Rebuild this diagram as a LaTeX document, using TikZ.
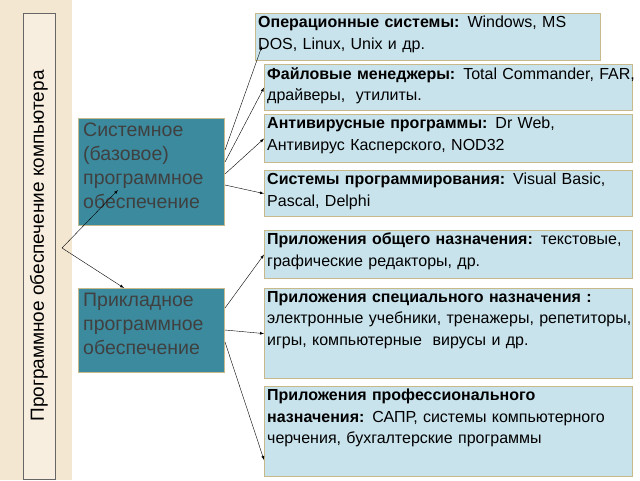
\documentclass[tikz,border=0pt]{standalone}
\usepackage{fontspec}
\setmainfont{Liberation Sans}
\definecolor{boxfill}{HTML}{C9E3EC}
\definecolor{boxline}{HTML}{C8B98A}
\definecolor{teal}{HTML}{3B8A9E}
\definecolor{beige}{HTML}{F3E7D2}
\begin{document}
\begin{tikzpicture}[x=1pt,y=-1pt,
  rbox/.style={draw=boxline,line width=1.2pt,fill=boxfill,anchor=north west,inner sep=0pt},
  rtxt/.style={anchor=north west,inner sep=3pt,align=left,text width=#1,font=\fontsize{16}{21.5}\selectfont},
  lbox/.style={draw=boxline,line width=1pt,fill=teal,anchor=north west,inner sep=0pt,minimum width=146pt},
  ltxt/.style={anchor=north west,text=black!75,align=left,inner sep=5pt,font=\fontsize{19.5}{24}\selectfont,text width=146pt},
  arr/.style={-latex,thin}]
\useasboundingbox (0,0) rectangle (640,480);
\fill[beige] (0,0) rectangle (72,480);
\node[draw=black!60,fill=beige!70!white,minimum width=32pt,minimum height=466pt,anchor=north west] (bar) at (23,13) {};
\node[rotate=90,font=\fontsize{19}{22}\selectfont] (bt) at (39,246) {Программное обеспечение компьютера};
\coordinate (fork) at (62,248);
\node[lbox,minimum height=107pt] (sys) at (78,118) {};
\node[ltxt] (syst) at (sys.north west) {Системное (базовое) программное обеспечение};
\node[lbox,minimum height=84pt] (app) at (78,288) {};
\node[ltxt] (appt) at (app.north west) {Прикладное программное обеспечение};
\node[rbox,minimum width=345pt,minimum height=47pt] (b1) at (255,13) {};
\node[rtxt=345pt] (t1) at (b1.north west) {\textbf{Операционные системы:} Windows, MS DOS, Linux, Unix и др.};
\node[rbox,minimum width=368pt,minimum height=46pt] (b2) at (264,64) {};
\node[rtxt=368pt] (t2) at (b2.north west) {\textbf{Файловые менеджеры:} Total Commander, FAR, драйверы,\ \ утилиты.};
\node[rbox,minimum width=368pt,minimum height=48pt] (b3) at (264,114) {};
\node[rtxt=368pt] (t3) at (b3.north west) {\textbf{Антивирусные программы:} Dr Web, Антивирус Касперского, NOD32};
\node[rbox,minimum width=368pt,minimum height=46pt] (b4) at (264,170) {};
\node[rtxt=368pt] (t4) at (b4.north west) {\textbf{Системы программирования:} Visual Basic, Pascal, Delphi};
\node[rbox,minimum width=368pt,minimum height=48pt] (b5) at (264,230) {};
\node[rtxt=368pt] (t5) at (b5.north west) {\textbf{Приложения общего назначения:} текстовые, графические редакторы, др.};
\node[rbox,minimum width=368pt,minimum height=90pt] (b6) at (264,288) {};
\node[rtxt=368pt] (t6) at (b6.north west) {\textbf{Приложения специального назначения :} электронные учебники, тренажеры, репетиторы, игры, компьютерные\ \ вирусы и др.};
\node[rbox,minimum width=368pt,minimum height=90pt] (b7) at (264,386) {};
\node[rtxt=368pt] (t7) at (b7.north west) {\textbf{Приложения профессионального назначения:} САПР, системы компьютерного\ \ черчения, бухгалтерские программы};
\draw[arr] (fork) -- (118,190);
\draw[arr] (fork) -- (124,288);
\draw[arr] (sys.north east |- 0,150) -- (262,46);
\draw[arr] (sys.north east |- 0,162) -- (b2.west);
\draw[arr] (sys.north east |- 0,174) -- (b3.west);
\draw[arr] (sys.north east |- 0,185) -- (b4.west);
\draw[arr] (app.north east |- 0,308) -- (b5.west);
\draw[arr] (app.north east |- 0,330) -- (b6.west);
\draw[arr] (app.north east |- 0,342) -- (264,460);
\end{tikzpicture}
\end{document}
